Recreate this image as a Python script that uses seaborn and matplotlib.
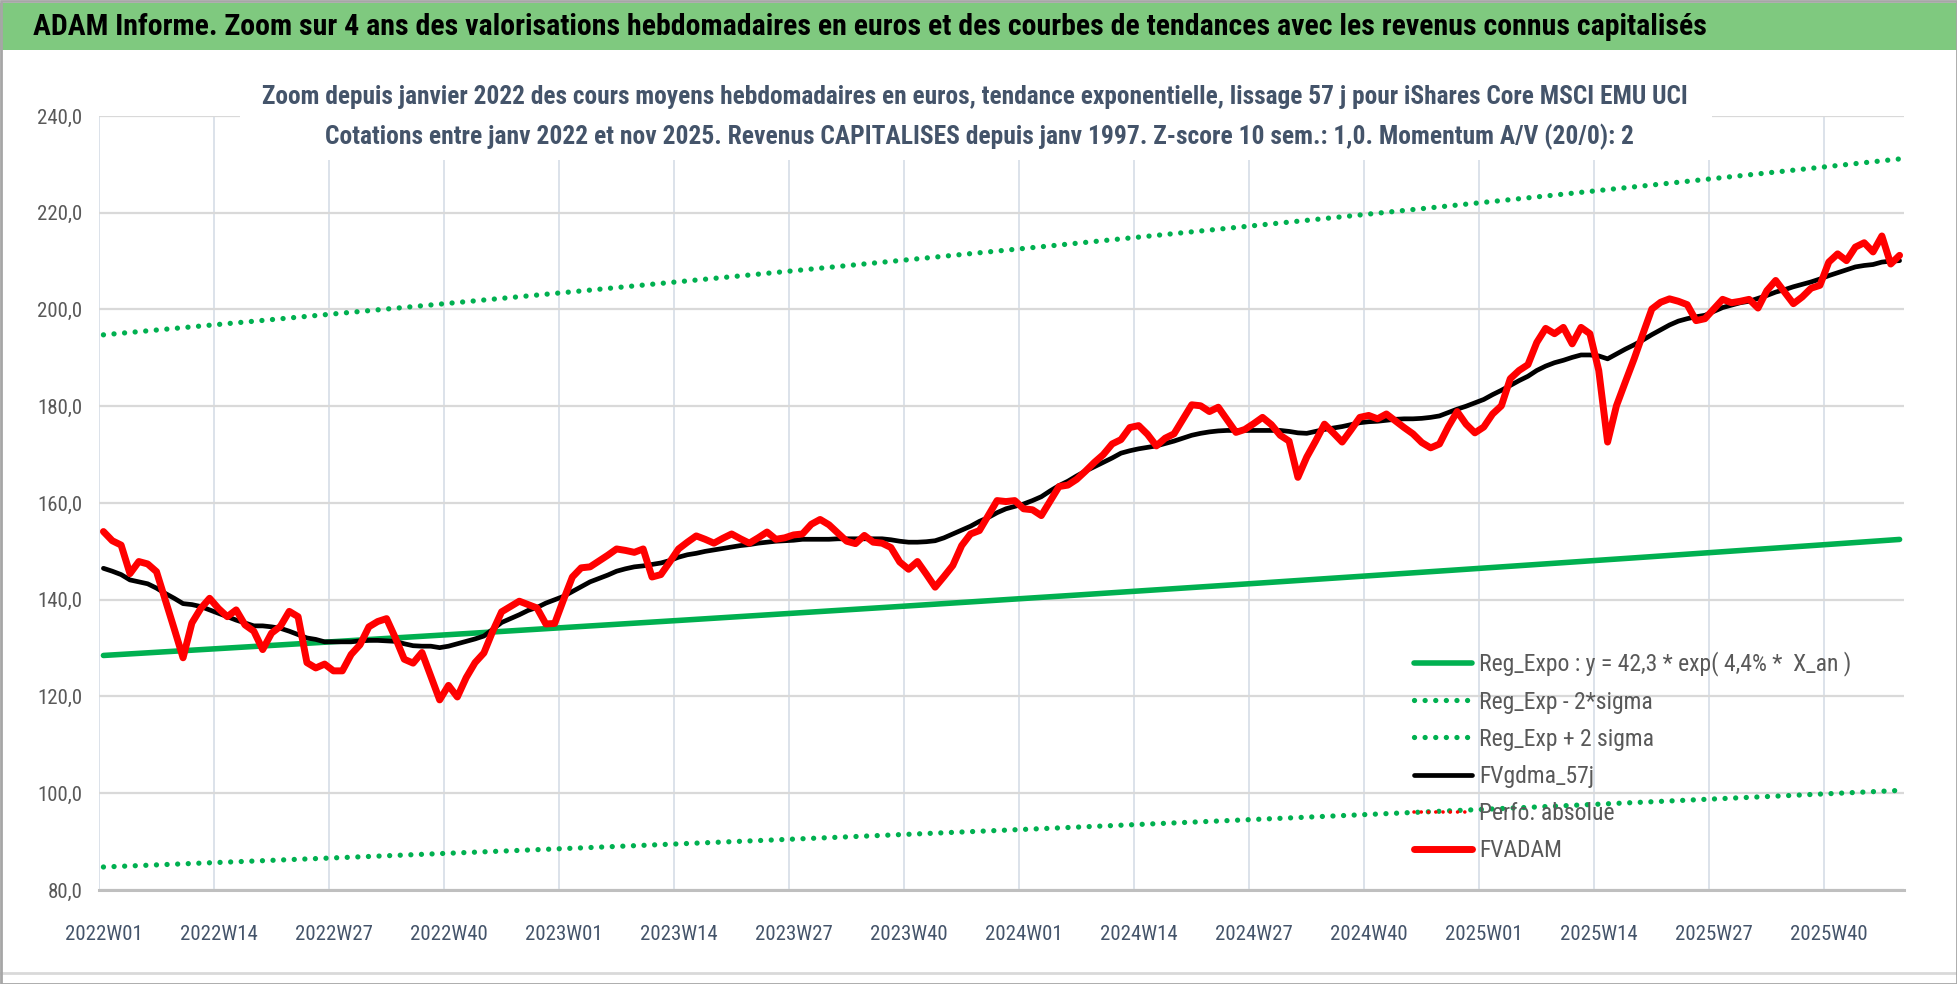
import numpy as np
import pandas as pd
import matplotlib
matplotlib.use("Agg")
import matplotlib.pyplot as plt
from matplotlib import font_manager
from matplotlib.patches import Rectangle
from matplotlib.lines import Line2D
import seaborn as sns

# weekly prices, FVADAM (euros), 2022W01 .. 2025W48
fvadam = [
    154.1, 152.2, 151.3, 145.4, 147.9, 147.4, 145.8, 139.9, 134.0, 128.0,
    135.2, 138.2, 140.3, 138.2, 136.5, 137.9, 134.8, 133.5, 129.7, 133.1,
    134.5, 137.6, 136.5, 127.0, 125.9, 126.7, 125.3, 125.3, 128.7, 130.7,
    134.4, 135.5, 136.1, 132.1, 127.7, 126.9, 129.1, 124.2, 119.3, 122.3,
    119.9, 123.9, 127.0, 129.0, 133.5, 137.5, 138.6, 139.7, 139.0, 138.3,
    135.0, 135.1, 140.0, 144.7, 146.6, 146.8, 148.0, 149.2, 150.5, 150.2,
    149.8, 150.5, 144.7, 145.2, 147.8, 150.5, 151.9, 153.2, 152.5, 151.7,
    152.7, 153.6, 152.6, 151.7, 152.8, 154.0, 152.5, 152.8, 153.4, 153.6,
    155.6, 156.6, 155.5, 153.8, 152.1, 151.6, 153.3, 151.9, 151.7, 150.8,
    147.8, 146.3, 147.9, 145.3, 142.6, 144.8, 147.1, 151.2, 153.6, 154.3,
    157.4, 160.5, 160.3, 160.5, 158.8, 158.6, 157.4, 160.4, 163.4, 163.7,
    164.9, 166.6, 168.4, 170.0, 172.2, 173.1, 175.6, 176.0, 174.2, 171.8,
    173.4, 174.3, 177.3, 180.3, 180.1, 178.9, 179.8, 177.2, 174.6, 175.2,
    176.4, 177.7, 176.2, 174.0, 172.8, 165.3, 169.5, 172.8, 176.3, 174.5,
    172.6, 175.1, 177.7, 178.1, 177.4, 178.4, 177.0, 175.6, 174.3, 172.5,
    171.4, 172.2, 175.8, 178.9, 176.3, 174.5, 175.7, 178.4, 180.1, 185.7,
    187.4, 188.6, 193.2, 196.1, 195.0, 196.3, 192.9, 196.3, 195.0, 187.4,
    172.6, 180.1, 185.0, 189.8, 195.0, 200.1, 201.5, 202.2, 201.7, 201.0,
    197.7, 198.1, 200.1, 202.1, 201.4, 201.7, 202.1, 200.3, 203.9, 206.0,
    203.6, 201.2, 202.6, 204.4, 205.0, 209.8, 211.5, 210.1, 212.9, 213.8,
    211.9, 215.2, 209.4, 211.2,
]

# smoothed curve FVgdma_57j
fvgdma_57j = [
    146.5, 145.9, 145.2, 144.1, 143.7, 143.3, 142.4, 141.3, 140.3, 139.2,
    139.0, 138.6, 137.9, 137.2, 136.5, 135.8, 135.2, 134.6, 134.6, 134.4,
    134.1, 133.5, 132.8, 132.1, 131.8, 131.3, 131.3, 131.3, 131.3, 131.5,
    131.6, 131.6, 131.5, 131.4, 130.9, 130.5, 130.4, 130.4, 130.1, 130.4,
    130.9, 131.4, 131.9, 132.5, 133.9, 135.3, 136.1, 136.9, 137.8, 138.4,
    139.3, 140.0, 140.7, 141.7, 142.7, 143.7, 144.4, 145.1, 145.9, 146.4,
    146.8, 147.0, 147.3, 147.6, 148.1, 148.8, 149.3, 149.6, 150.0, 150.3,
    150.6, 150.9, 151.2, 151.4, 151.7, 151.9, 152.1, 152.2, 152.3, 152.5,
    152.5, 152.5, 152.5, 152.6, 152.6, 152.6, 152.6, 152.6, 152.6, 152.4,
    152.1, 151.9, 151.9, 152.0, 152.2, 152.8, 153.6, 154.4, 155.2, 156.2,
    157.0, 158.0, 158.8, 159.3, 159.8, 160.5, 161.3, 162.5, 163.6, 164.5,
    165.6, 166.6, 167.5, 168.4, 169.3, 170.3, 170.8, 171.2, 171.5, 171.8,
    172.3, 172.8, 173.4, 174.0, 174.4, 174.7, 174.9, 175.0, 175.0, 175.0,
    175.0, 175.0, 175.0, 175.0, 174.8, 174.5, 174.4, 174.8, 175.2, 175.5,
    175.8, 176.2, 176.6, 176.8, 176.9, 177.1, 177.3, 177.4, 177.4, 177.5,
    177.7, 178.0, 178.7, 179.4, 180.0, 180.7, 181.4, 182.4, 183.3, 184.3,
    185.3, 186.2, 187.4, 188.3, 189.0, 189.5, 190.1, 190.6, 190.6, 190.4,
    189.8, 190.8, 191.8, 192.7, 193.7, 194.8, 195.8, 196.8, 197.6, 198.1,
    198.5, 198.8, 199.6, 200.4, 200.9, 201.4, 201.7, 202.3, 202.9, 203.6,
    204.1, 204.7, 205.2, 205.7, 206.3, 207.0, 207.6, 208.2, 208.8, 209.1,
    209.3, 209.8, 210.0, 210.1,
]

tick_labels = [
    "2022W01", "2022W14", "2022W27", "2022W40",
    "2023W01", "2023W14", "2023W27", "2023W40",
    "2024W01", "2024W14", "2024W27", "2024W40",
    "2025W01", "2025W14", "2025W27", "2025W40",
]

# regression parameters from the legend: y = 42,3 * exp(4,4% * X_an)
reg_coef = 42.3
reg_rate = 0.044
x_an_start = 25.25
weeks_per_year = 52.18
two_sigma = 0.416

weeks = np.arange(len(fvadam))
x_an = x_an_start + weeks / weeks_per_year
reg_expo = reg_coef * np.exp(reg_rate * x_an)

df = pd.DataFrame({
    "week": weeks,
    "reg": reg_expo,
    "reg_low": reg_expo * np.exp(-two_sigma),
    "reg_high": reg_expo * np.exp(two_sigma),
    "gdma": fvgdma_57j,
    "fvadam": fvadam,
})

sns.set_theme(style="white")
names = {f.name for f in font_manager.fontManager.ttflist}
narrow = "DejaVu Sans"
for cand in ["Liberation Sans Narrow", "DejaVu Sans Condensed", "Roboto Condensed", "Open Sans Condensed"]:
    if cand in names:
        narrow = cand
        break
plt.rcParams["font.family"] = [narrow, "DejaVu Sans"]

W, H = 1958, 984
fig = plt.figure(figsize=(W / 100, H / 100), dpi=100)
ax = fig.add_axes([99 / W, 94 / H, 1805 / W, 774 / H])

green = "#00B050"
dots = (0, (0.01, 2.0))

sns.lineplot(data=df, x="week", y="reg", ax=ax, color=green, lw=4.0,
             label="Reg_Expo : y = 42,3 * exp( 4,4% *  X_an )")
sns.lineplot(data=df, x="week", y="reg_low", ax=ax, color=green, lw=3.8,
             linestyle=dots, dash_capstyle="round", label="Reg_Exp - 2*sigma")
sns.lineplot(data=df, x="week", y="reg_high", ax=ax, color=green, lw=3.8,
             linestyle=dots, dash_capstyle="round", label="Reg_Exp + 2 sigma")
sns.lineplot(data=df, x="week", y="gdma", ax=ax, color="black", lw=3.4,
             label="FVgdma_57j")
sns.lineplot(data=df, x="week", y="fvadam", ax=ax, color="#FF0000", lw=2.6,
             linestyle=dots, dash_capstyle="round", label="Perfo. absolue")
sns.lineplot(data=df, x="week", y="fvadam", ax=ax, color="#FF0000", lw=5.0,
             solid_capstyle="round", label="FVADAM")

ax.set_xlim(-0.5, len(fvadam) - 0.5)
ax.set_ylim(80, 240)
ax.set_yticks(np.arange(80, 241, 20))
ax.set_yticklabels([f"{v:.1f}".replace(".", ",") for v in np.arange(80, 241, 20)])
ax.set_xticks(np.arange(0, len(tick_labels) * 13, 13))
ax.set_xticklabels(tick_labels)
ax.set_xticks(np.arange(-0.5, len(fvadam), 13), minor=True)
ax.set_xlabel("")
ax.set_ylabel("")

ax.grid(False)
ax.grid(axis="y", which="major", color="#D9D9D9", lw=1.6)
ax.grid(axis="x", which="minor", color="#DCE2EA", lw=1.4)
ax.set_axisbelow(True)
for side in ["top", "right", "left"]:
    ax.spines[side].set_visible(False)
ax.spines["bottom"].set_color("#BFBFBF")
ax.spines["bottom"].set_linewidth(2.2)
ax.tick_params(axis="both", which="both", length=0)
ax.tick_params(axis="x", pad=25, labelsize=15, labelcolor="#44546A")
ax.tick_params(axis="y", pad=12, labelsize=15, labelcolor="#595959")

leg = ax.legend(loc="upper left", bbox_to_anchor=(1405 / W, 1 - 642 / H),
                bbox_transform=fig.transFigure, frameon=False, fontsize=17,
                handlelength=2.45, handletextpad=0.28, labelspacing=0.6,
                borderaxespad=0)
for t in leg.get_texts():
    t.set_color("#595959")

# banner and titles
fig.patches.append(Rectangle((0, 1 - 50 / H), 1, 47 / H, transform=fig.transFigure,
                             facecolor="#7FC97F", edgecolor="none", zorder=1))
fig.text(33 / W, 1 - 27 / H,
         "ADAM Informe. Zoom sur 4 ans des valorisations hebdomadaires en euros "
         "et des courbes de tendances avec les revenus connus capitalisés",
         ha="left", va="center", fontsize=21.5, fontweight="bold", color="black")
fig.patches.append(Rectangle((240 / W, 1 - 160 / H), 1472 / W, 85 / H,
                             transform=fig.transFigure, facecolor="white",
                             edgecolor="none", zorder=1))
fig.text(975 / W, 1 - 97 / H,
         "Zoom depuis janvier 2022 des cours moyens hebdomadaires en euros, tendance "
         "exponentielle, lissage 57 j pour iShares Core MSCI EMU UCI",
         ha="center", va="center", fontsize=18.3, fontweight="bold", color="#44546A")
fig.text(979 / W, 1 - 137 / H,
         "Cotations entre janv 2022 et nov 2025. Revenus CAPITALISES depuis janv 1997. "
         "Z-score 10 sem.: 1,0. Momentum A/V (20/0): 2",
         ha="center", va="center", fontsize=18.4, fontweight="bold", color="#44546A")

# chart frame
fig.lines.append(Line2D([0, 1], [1 - 973 / H, 1 - 973 / H], transform=fig.transFigure,
                        color="#D9D9D9", lw=2))
fig.patches.append(Rectangle((0.0005, 0.0005), 0.999, 0.998, transform=fig.transFigure,
                             facecolor="none", edgecolor="#A6A6A6", lw=2, zorder=3))

fig.savefig("out.png", dpi=100)
